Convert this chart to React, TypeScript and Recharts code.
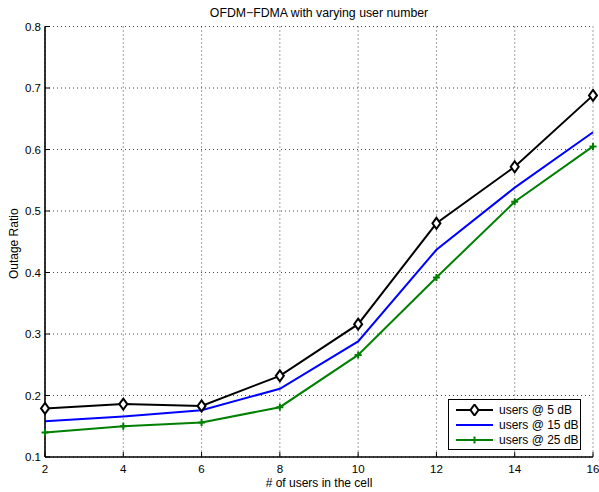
import { LineChart, Line, XAxis, YAxis, CartesianGrid, Legend, Label } from "recharts";

const users = [2, 4, 6, 8, 10, 12, 14, 16];
const snr5 = [0.179, 0.186, 0.183, 0.232, 0.316, 0.48, 0.572, 0.688];
const snr15 = [0.158, 0.166, 0.176, 0.211, 0.288, 0.437, 0.538, 0.628];
const snr25 = [0.14, 0.15, 0.156, 0.181, 0.266, 0.392, 0.515, 0.605];
const xTicks = [2, 4, 6, 8, 10, 12, 14, 16];
const yTicks = [0.1, 0.2, 0.3, 0.4, 0.5, 0.6, 0.7, 0.8];

const data = users.map((u, i) => ({ users: u, s5: snr5[i], s15: snr15[i], s25: snr25[i] }));

const FONT = "'Liberation Sans', Arial, Helvetica, sans-serif";

function Diamond({ cx, cy }: { cx?: number; cy?: number }) {
  if (cx == null || cy == null) return null;
  return (
    <polygon
      points={`${cx},${cy - 5.5} ${cx + 4},${cy} ${cx},${cy + 5.5} ${cx - 4},${cy}`}
      fill="#fff"
      stroke="#000"
      strokeWidth={2}
    />
  );
}

function Plus({ cx, cy }: { cx?: number; cy?: number }) {
  if (cx == null || cy == null) return null;
  return (
    <path
      d={`M${cx - 3.5},${cy}H${cx + 3.5}M${cx},${cy - 3.5}V${cy + 3.5}`}
      stroke="#008000"
      strokeWidth={2}
      fill="none"
    />
  );
}

const legendRows = [
  { name: "users @ 5 dB", color: "#000", marker: "d" },
  { name: "users @ 15 dB", color: "#0000ff", marker: "" },
  { name: "users @ 25 dB", color: "#008000", marker: "+" },
];

function MatlabLegend() {
  return (
    <div
      style={{
        width: 131,
        height: 47,
        border: "1.5px solid #000",
        background: "#fff",
        fontFamily: FONT,
        fontSize: 12,
        paddingTop: 2,
        boxSizing: "content-box",
      }}
    >
      {legendRows.map((r) => (
        <div key={r.name} style={{ display: "flex", alignItems: "center", height: 15 }}>
          <svg width={48} height={12} style={{ flex: "none" }}>
            <line x1={7} x2={44} y1={6} y2={6} stroke={r.color} strokeWidth={2} />
            {r.marker === "d" && <Diamond cx={25.5} cy={6} />}
            {r.marker === "+" && <Plus cx={25.5} cy={6} />}
          </svg>
          <span style={{ marginLeft: 2, color: "#000" }}>{r.name}</span>
        </div>
      ))}
    </div>
  );
}

export default function App() {
  return (
    <div style={{ position: "absolute", left: 0, top: 0, width: 599, height: 492, background: "#fff" }}>
      <div
        style={{
          position: "absolute",
          left: 45,
          width: 548,
          top: 5,
          textAlign: "center",
          fontFamily: FONT,
          fontSize: 12.3,
          lineHeight: "16px",
          color: "#000",
        }}
      >
        OFDM−FDMA with varying user number
      </div>
      <LineChart
        width={599}
        height={492}
        data={data}
        margin={{ top: 26.5, right: 6, bottom: 0, left: 0 }}
      >
        <CartesianGrid stroke="#444" strokeDasharray="1 3" strokeWidth={1} />
        <XAxis
          dataKey="users"
          type="number"
          domain={[2, 16]}
          ticks={xTicks}
          height={35}
          tickSize={-5}
          tickMargin={13}
          axisLine={{ stroke: "#000", strokeWidth: 1.6 }}
          tickLine={{ stroke: "#000" }}
          tick={{ fill: "#000", fontSize: 11.5, fontFamily: FONT }}
        >
          <Label
            value="# of users in the cell"
            position="insideBottom"
            offset={5}
            style={{ fill: "#000", fontSize: 12, fontFamily: FONT }}
          />
        </XAxis>
        <XAxis
          xAxisId="top"
          dataKey="users"
          type="number"
          orientation="top"
          domain={[2, 16]}
          ticks={xTicks}
          height={0}
          tick={false}
          tickSize={-5}
          axisLine={{ stroke: "#000", strokeWidth: 1.6 }}
          tickLine={{ stroke: "#000" }}
        />
        <YAxis
          type="number"
          domain={[0.1, 0.8]}
          ticks={yTicks}
          width={45}
          tickSize={-5}
          tickMargin={9}
          axisLine={{ stroke: "#000", strokeWidth: 1.6 }}
          tickLine={{ stroke: "#000" }}
          tick={{ fill: "#000", fontSize: 11.5, fontFamily: FONT }}
          tickFormatter={(v) => String(Number(v).toFixed(1))}
        >
          <Label
            content={({ viewBox }: any) => {
              const vb = viewBox || { x: 0, y: 0, height: 0 };
              const cx = 14;
              const cy = vb.y + vb.height / 2 + 2;
              return (
                <text
                  x={cx}
                  y={cy}
                  transform={`rotate(-90 ${cx} ${cy})`}
                  textAnchor="middle"
                  dominantBaseline="central"
                  fill="#000"
                  fontSize={12}
                  fontFamily={FONT}
                >
                  Outage Ratio
                </text>
              );
            }}
          />
        </YAxis>
        <YAxis
          yAxisId="right"
          orientation="right"
          type="number"
          domain={[0.1, 0.8]}
          ticks={yTicks}
          width={0}
          tick={false}
          tickSize={-5}
          axisLine={{ stroke: "#000", strokeWidth: 1.6 }}
          tickLine={{ stroke: "#000" }}
        />
        <Legend
          layout="vertical"
          align="center"
          verticalAlign="middle"
          content={() => <MatlabLegend />}
          wrapperStyle={{ left: 448, top: 399, width: "auto", height: "auto" }}
        />
        <Line
          dataKey="s15"
          name="users @ 15 dB"
          stroke="#0000ff"
          strokeWidth={2}
          dot={false}
          isAnimationActive={false}
        />
        <Line
          dataKey="s25"
          name="users @ 25 dB"
          stroke="#008000"
          strokeWidth={2}
          dot={(p: any) => <Plus key={p.index} cx={p.cx} cy={p.cy} />}
          isAnimationActive={false}
        />
        <Line
          dataKey="s5"
          name="users @ 5 dB"
          stroke="#000"
          strokeWidth={2}
          dot={(p: any) => <Diamond key={p.index} cx={p.cx} cy={p.cy} />}
          isAnimationActive={false}
        />
      </LineChart>
    </div>
  );
}
